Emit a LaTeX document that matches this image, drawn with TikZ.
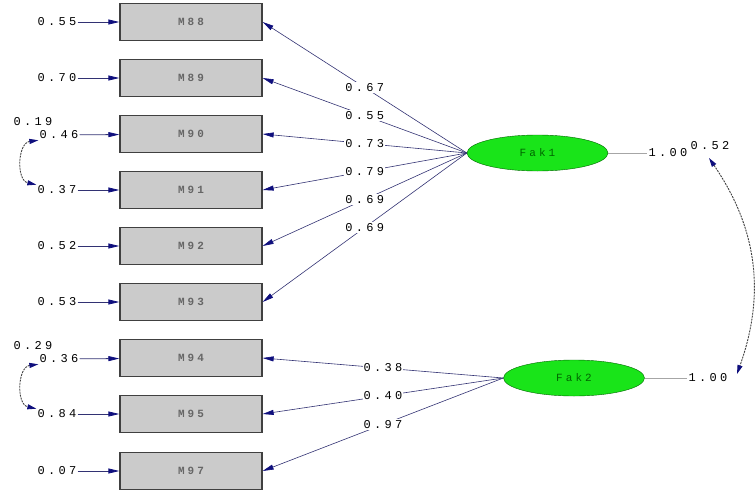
\documentclass[tikz,border=0pt]{standalone}
\usepackage{fontspec}
\newfontfamily\lisfont[LetterSpace=28]{Liberation Mono}
\usetikzlibrary{arrows.meta, shapes.geometric}
\definecolor{pathblue}{RGB}{50,50,115}
\definecolor{tipblue}{RGB}{15,15,125}
\definecolor{boxgray}{RGB}{203,203,203}
\definecolor{fakgreen}{RGB}{25,228,25}

\begin{document}
\begin{tikzpicture}[x=1pt, y=-1pt,
    obs/.style={draw=black!75, line width=1.3pt, fill=boxgray, minimum width=142pt, minimum height=37pt,
        font=\lisfont\bfseries\fontsize{11}{13}\selectfont, text=black!60},
    lat/.style={ellipse, draw=black!60!green, fill=fakgreen, minimum width=141pt, minimum height=36pt,
        font=\lisfont\fontsize{11}{13}\selectfont, text=black!60!green},
    num/.style={font=\lisfont\fontsize{12}{14}\selectfont, inner sep=1pt},
    tip/.style={-{Triangle[length=11pt, width=5pt, color=tipblue]}},
    load/.style={draw=pathblue, line width=0.6pt, tip},
    err/.style={draw=pathblue, line width=0.8pt, tip},
    cov/.style={draw=black!75, line width=0.9pt, dash pattern=on 2pt off 1pt,
        {Triangle[length=9pt, width=5pt, color=tipblue]}-{Triangle[length=9pt, width=5pt, color=tipblue]}},
    var/.style={draw=black!35, line width=0.5pt}]

    \useasboundingbox (0,0) rectangle (755,490);
    
    \node[obs] (m88) at (191, 22) {M88};
    \node[obs] (m89) at (191, 78) {M89};
    \node[obs] (m90) at (191,134) {M90};
    \node[obs] (m91) at (191,190) {M91};
    \node[obs] (m92) at (191,246) {M92};
    \node[obs] (m93) at (191,302) {M93};
    \node[obs] (m94) at (191,358) {M94};
    \node[obs] (m95) at (191,414) {M95};
    \node[obs] (m97) at (191,471) {M97};
    
    \node[lat] (fak1) at (537.5,153) {Fak1};
    \node[lat] (fak2) at (574,378) {Fak2};
    
    \node[num] (e88) at (57, 22) {0.55};
    \node[num] (e89) at (57, 78) {0.70};
    \node[num] (e90) at (59,135) {0.46};
    \node[num] (e91) at (57,190) {0.37};
    \node[num] (e92) at (57,246) {0.52};
    \node[num] (e93) at (57,302) {0.53};
    \node[num] (e94) at (59,359) {0.36};
    \node[num] (e95) at (57,414) {0.84};
    \node[num] (e97) at (57,471) {0.07};
    
    \draw[err] (e88) -- (m88);
    \draw[err] (e89) -- (m89);
    \draw[err] (e90) -- (m90);
    \draw[err] (e91) -- (m91);
    \draw[err] (e92) -- (m92);
    \draw[err] (e93) -- (m93);
    \draw[err] (e94) -- (m94);
    \draw[err] (e95) -- (m95);
    \draw[err] (e97) -- (m97);
    
    \draw[cov] (e90.south west) to[bend right=80, looseness=1.2] (e91.north west);
    \node[num] (c9091) at (33,122) {0.19};
    \draw[cov] (e94.south west) to[bend right=80, looseness=1.2] (e95.north west);
    \node[num] (c9495) at (33,346) {0.29};
    
    \draw[load] (fak1.west) -- (m88.east) node[num, pos=0.5, fill=white] {0.67};
    \draw[load] (fak1.west) -- (m89.east) node[num, pos=0.5, fill=white] {0.55};
    \draw[load] (fak1.west) -- (m90.east) node[num, pos=0.5, fill=white] {0.73};
    \draw[load] (fak1.west) -- (m91.east) node[num, pos=0.5, fill=white] {0.79};
    \draw[load] (fak1.west) -- (m92.east) node[num, pos=0.5, fill=white] {0.69};
    \draw[load] (fak1.west) -- (m93.east) node[num, pos=0.5, fill=white] {0.69};
    
    \draw[load] (fak2.west) -- (m94.east) node[num, pos=0.5, fill=white] {0.38};
    \draw[load] (fak2.west) -- (m95.east) node[num, pos=0.5, fill=white] {0.40};
    \draw[load] (fak2.west) -- (m97.east) node[num, pos=0.5, fill=white] {0.97};
    
    \node[num] (v1) at (668,153) {1.00};
    \node[num] (v2) at (708,378) {1.00};
    \draw[var] (fak1.east) -- (v1);
    \draw[var] (fak2.east) -- (v2);
    
    \coordinate (f1end) at (709,158);
    \coordinate (f2end) at (737,374);
    \draw[cov] (f1end) to[bend left=27] (f2end);
    \node[num] (c12) at (710,146) {0.52};
    
\end{tikzpicture}
\end{document}
